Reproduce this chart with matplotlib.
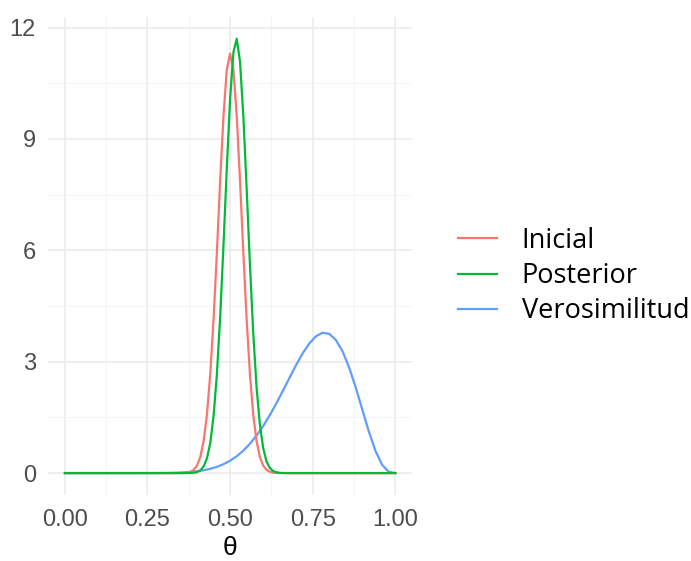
import matplotlib
matplotlib.use("Agg")
import matplotlib.pyplot as plt
from matplotlib.ticker import MultipleLocator

# ---- data ----
theta_ini = [0.00, 0.34, 0.35, 0.36, 0.37, 0.38, 0.39, 0.40, 0.41, 0.42, 0.43, 0.44, 0.45,
             0.46, 0.47, 0.48, 0.49, 0.50, 0.51, 0.52, 0.53, 0.54, 0.55, 0.56, 0.57,
             0.58, 0.59, 0.60, 0.61, 0.62, 0.63, 0.64, 0.65, 0.66, 1.00]
dens_ini = [0.0, 0.0, 0.001, 0.004, 0.013, 0.035, 0.088, 0.204, 0.439, 0.868, 1.58, 2.67, 4.15,
            5.95, 7.88, 9.63, 10.87, 11.30, 10.87, 9.63, 7.88, 5.95, 4.15, 2.67, 1.58,
            0.868, 0.439, 0.204, 0.088, 0.035, 0.013, 0.004, 0.001, 0.0, 0.0]

theta_post = [0.00, 0.37, 0.38, 0.39, 0.40, 0.41, 0.42, 0.43, 0.44, 0.45, 0.46, 0.47, 0.48,
              0.49, 0.50, 0.51, 0.52, 0.53, 0.54, 0.55, 0.56, 0.57, 0.58, 0.59, 0.60,
              0.61, 0.62, 0.63, 0.64, 0.65, 0.66, 0.67, 1.00]
dens_post = [0.0, 0.0, 0.003, 0.009, 0.027, 0.072, 0.18, 0.40, 0.81, 1.54, 2.66, 4.22, 6.14,
             8.21, 10.08, 11.33, 11.70, 11.08, 9.63, 7.68, 5.62, 3.77, 2.32, 1.31, 0.68,
             0.32, 0.14, 0.056, 0.021, 0.007, 0.002, 0.0, 0.0]

theta_ver = [0.00, 0.28, 0.30, 0.32, 0.34, 0.36, 0.38, 0.40, 0.42, 0.44, 0.46, 0.48, 0.50,
             0.52, 0.54, 0.56, 0.58, 0.60, 0.62, 0.64, 0.66, 0.68, 0.70, 0.72, 0.74,
             0.76, 0.78, 0.80, 0.82, 0.84, 0.86, 0.88, 0.90, 0.92, 0.94, 0.96, 0.98, 1.00]
dens_ver = [0.0, 0.002, 0.003, 0.006, 0.011, 0.019, 0.031, 0.049, 0.076, 0.115, 0.168, 0.239, 0.333,
            0.454, 0.605, 0.790, 1.011, 1.267, 1.559, 1.879, 2.221, 2.571, 2.915, 3.231, 3.496,
            3.687, 3.779, 3.752, 3.588, 3.285, 2.851, 2.312, 1.713, 1.117, 0.597, 0.223, 0.035, 0.0]

series_names = ["Inicial", "Posterior", "Verosimilitud"]
series_colors = ["#F8766D", "#00BA38", "#619CFF"]
x_ticks = [0.00, 0.25, 0.50, 0.75, 1.00]
x_tick_labels = ["0.00", "0.25", "0.50", "0.75", "1.00"]
y_ticks = [0, 3, 6, 9, 12]

plt.rcParams['font.family'] = ['Liberation Sans', 'DejaVu Sans']

fig = plt.figure(figsize=(6.91, 5.61), dpi=100)
ax = fig.add_axes([0.070, 0.118, 0.526, 0.852])

lw = 1.6
h_ver, = ax.plot(theta_ver, dens_ver, color=series_colors[2], lw=lw, zorder=3)
h_ini, = ax.plot(theta_ini, dens_ini, color=series_colors[0], lw=lw, zorder=4)
h_post, = ax.plot(theta_post, dens_post, color=series_colors[1], lw=lw, zorder=5)

ax.set_xlim(-0.05, 1.05)
ax.set_ylim(-0.585, 12.29)
ax.set_xticks(x_ticks)
ax.set_xticklabels(x_tick_labels)
ax.set_yticks(y_ticks)
ax.xaxis.set_minor_locator(MultipleLocator(0.125))
ax.yaxis.set_minor_locator(MultipleLocator(1.5))
ax.grid(which='major', color='#EBEBEB', lw=1.1, zorder=0)
ax.grid(which='minor', color='#F3F3F3', lw=0.6, zorder=0)
for s in ax.spines.values():
    s.set_visible(False)
ax.tick_params(which='both', length=0)
ax.tick_params(axis='both', labelsize=17, labelcolor='#4D4D4D')
ax.tick_params(axis='x', pad=10)
ax.tick_params(axis='y', pad=9)
ax.set_xlabel("θ", fontsize=19, color='black', labelpad=4)

fig.legend([h_ini, h_post, h_ver], series_names, loc='center left',
           bbox_to_anchor=(0.663, 0.508), frameon=False,
           borderpad=0, borderaxespad=0,
           handlelength=1.45, handletextpad=0.9, labelspacing=0.27,
           prop={'family': ['Open Sans', 'DejaVu Sans'], 'size': 19.5})

fig.savefig("out.png", dpi=100)
